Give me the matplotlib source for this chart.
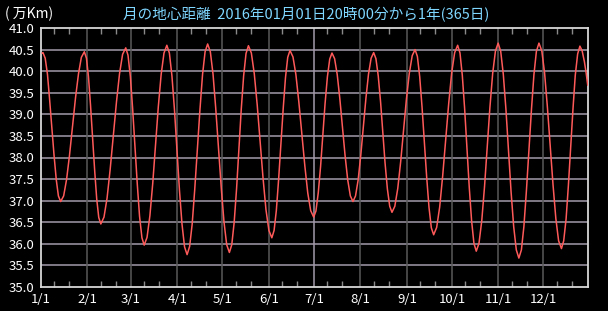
import matplotlib
matplotlib.use("Agg")
import matplotlib.pyplot as plt
import matplotlib.ticker as ticker

plt.rcParams['font.family'] = ['Noto Sans CJK JP', 'DejaVu Sans']

# day of year (1/1 0:00 = 0), distance in 10^4 km
days = [
    0.83, 1.3, 2.8, 4.3, 5.7, 7.2, 8.7, 10.2, 11.6,
    13.1, 15.1, 17.05, 19.0, 21.0, 23.0, 25.0, 26.9,
    28.9, 30.3, 31.65, 33.0, 34.4, 35.8, 37.15, 38.5,
    39.9, 42.0, 44.05, 46.1, 48.2, 50.3, 52.35, 54.4,
    56.5, 58.0, 59.6, 61.1, 62.65, 64.2, 65.7, 67.3,
    68.8, 70.7, 72.6, 74.5, 76.35, 78.2, 80.1, 82.0,
    83.9, 85.6, 87.3, 89.0, 90.65, 92.3, 94.0, 95.7,
    97.4, 99.1, 100.8, 102.5, 104.25, 106.0, 107.7, 109.4,
    111.1, 112.9, 114.7, 116.5, 118.35, 120.2, 122.0, 123.8,
    125.6, 127.2, 128.8, 130.4, 131.95, 133.5, 135.1, 136.7,
    138.3, 140.25, 142.2, 144.15, 146.1, 148.05, 150.0, 151.95,
    153.9, 155.4, 156.9, 158.4, 159.95, 161.5, 163.0, 164.5,
    166.0, 168.0, 169.95, 171.9, 173.9, 175.9, 177.85, 179.8,
    181.8, 183.3, 184.85, 186.4, 187.9, 189.4, 190.95, 192.5,
    194.0, 195.75, 197.5, 199.25, 201.0, 202.75, 204.5, 206.25,
    208.0, 209.7, 211.45, 213.2, 214.9, 216.6, 218.35, 220.1,
    221.8, 223.3, 224.85, 226.4, 227.9, 229.4, 230.95, 232.5,
    234.0, 235.9, 237.85, 239.8, 241.7, 243.6, 245.55, 247.5,
    249.4, 250.95, 252.5, 254.05, 255.6, 257.15, 258.7, 260.25,
    261.8, 263.8, 265.8, 267.8, 269.8, 271.8, 273.8, 275.8,
    277.8, 279.35, 280.9, 282.45, 284.0, 285.55, 287.1, 288.65,
    290.2, 292.0, 293.85, 295.7, 297.5, 299.3, 301.15, 303.0,
    304.8, 306.5, 308.25, 310.0, 311.7, 313.4, 315.15, 316.9,
    318.6, 320.3, 321.95, 323.6, 325.3, 327.0, 328.65, 330.3,
    332.0, 333.9, 335.75, 337.6, 339.5, 341.4, 343.25, 345.1,
    347.0, 348.5, 350.1, 351.6, 353.15, 354.7, 356.2, 357.8,
    359.3, 360.8, 362.3, 363.5, 364.5,
]
dist = [
    40.42, 40.43, 40.30, 39.93, 39.36, 38.71, 38.05, 37.48, 37.11,
    36.98, 37.11, 37.49, 38.05, 38.72, 39.38, 39.94, 40.32,
    40.45, 40.30, 39.87, 39.22, 38.46, 37.69, 37.04, 36.61,
    36.46, 36.62, 37.06, 37.72, 38.50, 39.28, 39.94, 40.39,
    40.54, 40.37, 39.87, 39.13, 38.26, 37.38, 36.64, 36.14,
    35.97, 36.15, 36.65, 37.40, 38.29, 39.17, 39.92, 40.42,
    40.60, 40.42, 39.89, 39.10, 38.18, 37.25, 36.46, 35.93,
    35.75, 35.94, 36.46, 37.26, 38.19, 39.12, 39.92, 40.45,
    40.63, 40.45, 39.93, 39.14, 38.22, 37.29, 36.51, 35.98,
    35.80, 35.98, 36.50, 37.28, 38.20, 39.11, 39.89, 40.41,
    40.59, 40.42, 39.94, 39.22, 38.37, 37.52, 36.79, 36.31,
    36.14, 36.31, 36.77, 37.48, 38.31, 39.14, 39.85, 40.32,
    40.48, 40.33, 39.92, 39.29, 38.55, 37.81, 37.18, 36.77,
    36.62, 36.76, 37.18, 37.79, 38.52, 39.25, 39.87, 40.28,
    40.42, 40.29, 39.92, 39.36, 38.70, 38.04, 37.48, 37.11,
    36.98, 37.11, 37.48, 38.05, 38.71, 39.36, 39.93, 40.30,
    40.43, 40.29, 39.89, 39.29, 38.58, 37.87, 37.27, 36.87,
    36.73, 36.87, 37.28, 37.90, 38.62, 39.34, 39.95, 40.36,
    40.50, 40.34, 39.87, 39.17, 38.36, 37.54, 36.84, 36.37,
    36.21, 36.38, 36.85, 37.57, 38.41, 39.24, 39.96, 40.43,
    40.60, 40.42, 39.90, 39.13, 38.22, 37.30, 36.53, 36.01,
    35.83, 36.01, 36.53, 37.32, 38.24, 39.16, 39.95, 40.47,
    40.65, 40.46, 39.92, 39.11, 38.16, 37.21, 36.40, 35.86,
    35.67, 35.86, 36.40, 37.21, 38.16, 39.11, 39.92, 40.46,
    40.65, 40.47, 39.96, 39.18, 38.27, 37.36, 36.59, 36.07,
    35.89, 36.07, 36.58, 37.34, 38.24, 39.13, 39.90, 40.40,
    40.58, 40.47, 40.22, 39.95, 39.68,
]

month_days = [0, 31, 60, 91, 121, 152, 182, 213, 244, 274, 305, 335]
month_labels = ["1/1", "2/1", "3/1", "4/1", "5/1", "6/1",
                "7/1", "8/1", "9/1", "10/1", "11/1", "12/1"]
minor_days = [d + k for d in month_days for k in (9, 19)]
y_ticks = [35.0, 35.5, 36.0, 36.5, 37.0, 37.5, 38.0, 38.5, 39.0, 39.5, 40.0, 40.5, 41.0]

W, H, DPI = 608, 311, 100
fig = plt.figure(figsize=(W / DPI, H / DPI), dpi=DPI, facecolor="black")
ax = fig.add_axes([41 / W, 24 / H, 547 / W, 259 / H], facecolor="black")

ax.set_xlim(0, 364.7)
ax.set_ylim(35.0, 41.0)

# grid
for y in y_ticks[1:-1]:
    ax.axhline(y, color="#a39aab", lw=1.1, zorder=1)
for d in month_days[1:]:
    c = "#a39aab" if d == 182 else "#5a5a5a"
    ax.axvline(d, color=c, lw=1.1, zorder=1)

ax.plot(days, dist, color="#ff5a5a", lw=1.1, zorder=3)

for s in ax.spines.values():
    s.set_color("#d8d8d8")
    s.set_linewidth(1.3)

ax.xaxis.set_major_locator(ticker.FixedLocator(month_days))
ax.xaxis.set_major_formatter(ticker.FixedFormatter(month_labels))
ax.xaxis.set_minor_locator(ticker.FixedLocator(minor_days))
ax.tick_params(axis="x", which="major", length=0, pad=4, colors="white", labelsize=9.5)
ax.tick_params(axis="x", which="minor", direction="in", length=4, width=1,
               color="#8a8a8a", top=True, bottom=True)
ax.yaxis.set_major_locator(ticker.FixedLocator(y_ticks))
ax.yaxis.set_major_formatter(ticker.FormatStrFormatter("%.1f"))
ax.tick_params(axis="y", length=0, pad=5, colors="white", labelsize=9.5)

fig.text(5 / W, 1 - 14 / H, "( 万Km)", color="white", fontsize=10, va="center", ha="left")
fig.text(306 / W, 1 - 15 / H, "月の地心距離  2016年01月01日20時00分から1年(365日)",
         color="#7fd6ff", fontsize=10.5, va="center", ha="center")

fig.savefig("out.png", dpi=DPI, facecolor="black")
